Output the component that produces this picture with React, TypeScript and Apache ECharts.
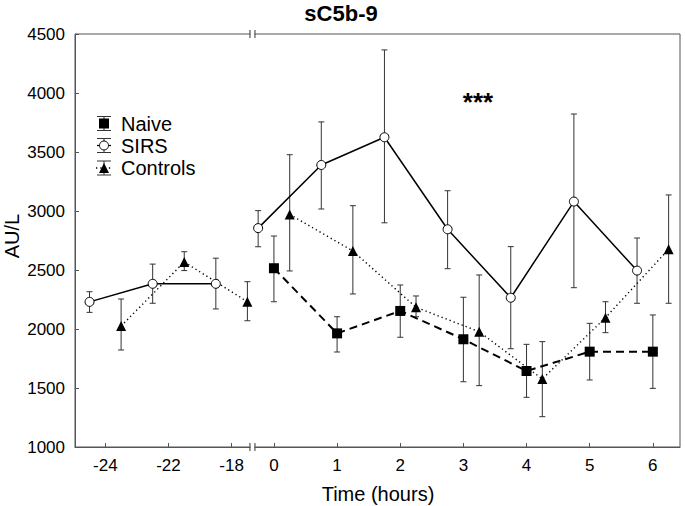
import React, { useEffect, useRef } from 'react';
import * as echarts from 'echarts';

// ---- data ----
const leftTimeLabels = ['-24', '-22', '-18'];
const rightTimeLabels = ['0', '1', '2', '3', '4', '5', '6'];

const naiveRight = [2515, 1963, 2153, 1913, 1644, 1808, 1808];
const naiveRightLow = [2231, 1805, 1930, 1553, 1421, 1568, 1497];
const naiveRightHigh = [2788, 2104, 2373, 2269, 1870, 2048, 2119];

const sirsLeft = [2230, 2383, 2383];
const sirsLeftLow = [2141, 2218, 2170];
const sirsLeftHigh = [2316, 2550, 2600];
const sirsRight = [2855, 3390, 3625, 2845, 2265, 3080, 2495];
const sirsRightLow = [2697, 3017, 2900, 2511, 1833, 2350, 2218];
const sirsRightHigh = [3003, 3755, 4365, 3172, 2698, 3822, 2771];

const controlsLeft = [2025, 2568, 2231];
const controlsLeftLow = [1822, 2495, 2070];
const controlsLeftHigh = [2254, 2655, 2401];
const controlsRight = [2971, 2661, 2184, 1977, 1576, 2096, 2676];
const controlsRightLow = [2492, 2297, 2104, 1520, 1257, 1969, 2218];
const controlsRightHigh = [3477, 3045, 2280, 2458, 1893, 2231, 3136];

const yMin = 1000;
const yMax = 4500;
const yStep = 500;

// ---- layout ----
const W = 685;
const H = 506;
const GL = 75, GR = 5, GT = 34, GB = 59;
const X_MIN = -3.15, X_MAX = 6.43;
const LEFT_START = -2.67; // axis position of first pre-treatment label
const BREAK_POS = -0.34;
const OFF_SIRS = -0.25, OFF_NAIVE = 0, OFF_CTRL = 0.25;
const FONT = 'Liberation Sans, Arial, Helvetica, sans-serif';
const AXIS_COLOR = '#555';

const leftPos = (i: number) => LEFT_START + i;
const rightPos = (i: number) => i;

function lineData(left: number[] | null, right: number[], off: number) {
  const d: any[] = [];
  if (left) {
    left.forEach((v, i) => d.push([leftPos(i) + off, v]));
    d.push([BREAK_POS, null]);
  }
  right.forEach((v, i) => d.push([rightPos(i) + off, v]));
  return d;
}
function errData(lLow: number[] | null, lHigh: number[] | null, rLow: number[], rHigh: number[], off: number) {
  const d: any[] = [];
  if (lLow && lHigh) lLow.forEach((v, i) => d.push([leftPos(i) + off, v, lHigh[i]]));
  rLow.forEach((v, i) => d.push([rightPos(i) + off, v, rHigh[i]]));
  return d;
}

const tickPositions = [
  ...leftTimeLabels.map((_, i) => leftPos(i)),
  ...rightTimeLabels.map((_, i) => rightPos(i)),
];
const tickLabels = [...leftTimeLabels, ...rightTimeLabels];
const labelFor = (v: number) => {
  let best = 0, bd = Infinity;
  tickPositions.forEach((p, i) => { const dd = Math.abs(p - v); if (dd < bd) { bd = dd; best = i; } });
  return tickLabels[best];
};

const errRender = (params: any, api: any) => {
  const x = api.value(0);
  const lo = api.coord([x, api.value(1)]);
  const hi = api.coord([x, api.value(2)]);
  const cap = 3;
  const st = { stroke: '#333', lineWidth: 1 };
  return {
    type: 'group',
    children: [
      { type: 'line', shape: { x1: lo[0], y1: lo[1], x2: hi[0], y2: hi[1] }, style: st },
      { type: 'line', shape: { x1: lo[0] - cap, y1: lo[1], x2: lo[0] + cap, y2: lo[1] }, style: st },
      { type: 'line', shape: { x1: hi[0] - cap, y1: hi[1], x2: hi[0] + cap, y2: hi[1] }, style: st },
    ],
  };
};

function txt(text: string, x: number, y: number, size: number, opts: any = {}) {
  return {
    type: 'text',
    x, y,
    rotation: opts.rotation || 0,
    z: 100,
    style: {
      text,
      fontSize: size,
      fontFamily: FONT,
      fontWeight: opts.bold ? 'bold' : 'normal',
      fill: '#000',
      align: opts.align || 'center',
      textAlign: opts.align || 'center',
      verticalAlign: 'middle',
      textVerticalAlign: 'middle',
    },
  };
}

function legendRow(cx: number, cy: number, kind: string, label: string) {
  const st = { stroke: '#333', lineWidth: 1 };
  const h = 7, cw = 7;
  const els: any[] = [
    { type: 'line', z: 100, shape: { x1: cx, y1: cy - h, x2: cx, y2: cy + h }, style: st },
    { type: 'line', z: 100, shape: { x1: cx - cw, y1: cy - h, x2: cx + cw, y2: cy - h }, style: st },
    { type: 'line', z: 100, shape: { x1: cx - cw, y1: cy + h, x2: cx + cw, y2: cy + h }, style: st },
  ];
  if (kind === 'sirs') {
    els.push({ type: 'line', z: 100, shape: { x1: cx - 7, y1: cy, x2: cx + 7, y2: cy }, style: { stroke: '#000', lineWidth: 1.2 } });
    els.push({ type: 'circle', z: 101, shape: { cx, cy, r: 4.5 }, style: { fill: '#fff', stroke: '#000', lineWidth: 1 } });
  } else if (kind === 'naive') {
    els.push({ type: 'rect', z: 101, shape: { x: cx - 5, y: cy - 5, width: 10, height: 10 }, style: { fill: '#000' } });
  } else {
    els.push({ type: 'line', z: 100, shape: { x1: cx - 8, y1: cy, x2: cx + 8, y2: cy }, style: { stroke: '#000', lineWidth: 1.3, lineDash: [1.3, 3] } });
    els.push({ type: 'polygon', z: 101, shape: { points: [[cx, cy - 5], [cx + 5, cy + 5], [cx - 5, cy + 5]] }, style: { fill: '#000' } });
  }
  els.push(txt(label, cx + 17, cy, 20, { align: 'left' }));
  return els;
}

export default function App() {
  const ref = useRef<HTMLDivElement>(null);
  useEffect(() => {
    document.body.style.margin = '0';
    if (!ref.current) return;
    const chart = echarts.init(ref.current, undefined, { renderer: 'svg' });
    const plotW = W - GL - GR;
    const bx = GL + ((BREAK_POS - X_MIN) / (X_MAX - X_MIN)) * plotW;
    const yTop = GT, yBot = H - GB;
    const breakEls: any[] = [];
    [yTop, yBot].forEach((yy) => {
      breakEls.push({ type: 'rect', z: 110, shape: { x: bx - 2, y: yy - 2, width: 4, height: 4 }, style: { fill: '#fff' } });
      breakEls.push({ type: 'line', z: 111, shape: { x1: bx - 2.5, y1: yy - 4, x2: bx - 2.5, y2: yy + 4 }, style: { stroke: AXIS_COLOR, lineWidth: 1.2 } });
      breakEls.push({ type: 'line', z: 111, shape: { x1: bx + 2.5, y1: yy - 4, x2: bx + 2.5, y2: yy + 4 }, style: { stroke: AXIS_COLOR, lineWidth: 1.2 } });
    });

    const option: any = {
      animation: false,
      backgroundColor: '#fff',
      grid: { left: GL, right: GR, top: GT, bottom: GB, show: true, borderColor: AXIS_COLOR, borderWidth: 1, backgroundColor: 'transparent' },
      xAxis: {
        type: 'value',
        min: X_MIN,
        max: X_MAX,
        splitLine: { show: false },
        axisLine: { show: true, onZero: false, lineStyle: { color: AXIS_COLOR, width: 1 } },
        axisTick: { show: true, inside: true, length: 4, lineStyle: { color: AXIS_COLOR }, customValues: tickPositions },
        axisLabel: {
          show: true, margin: 10, color: '#000', fontSize: 17, fontFamily: FONT,
          customValues: tickPositions,
          formatter: (v: number) => labelFor(v),
        },
      },
      yAxis: {
        type: 'value',
        min: yMin,
        max: yMax,
        interval: yStep,
        splitLine: { show: false },
        axisLine: { show: true, onZero: false, lineStyle: { color: AXIS_COLOR, width: 1 } },
        axisTick: { show: true, inside: true, length: 4, lineStyle: { color: AXIS_COLOR } },
        axisLabel: { margin: 10, color: '#000', fontSize: 17, fontFamily: FONT, formatter: (v: number) => String(v) },
      },
      series: [
        { type: 'custom', name: 'err-naive', renderItem: errRender, data: errData(null, null, naiveRightLow, naiveRightHigh, OFF_NAIVE), encode: { x: 0, y: [1, 2] }, z: 1, silent: true },
        { type: 'custom', name: 'err-sirs', renderItem: errRender, data: errData(sirsLeftLow, sirsLeftHigh, sirsRightLow, sirsRightHigh, OFF_SIRS), encode: { x: 0, y: [1, 2] }, z: 1, silent: true },
        { type: 'custom', name: 'err-ctrl', renderItem: errRender, data: errData(controlsLeftLow, controlsLeftHigh, controlsRightLow, controlsRightHigh, OFF_CTRL), encode: { x: 0, y: [1, 2] }, z: 1, silent: true },
        {
          type: 'line', name: 'Controls', data: lineData(controlsLeft, controlsRight, OFF_CTRL), connectNulls: false,
          symbol: 'triangle', symbolSize: 10, showAllSymbol: true, z: 3,
          lineStyle: { color: '#000', width: 1.4, type: [1.3, 3] },
          itemStyle: { color: '#000', borderWidth: 0 },
        },
        {
          type: 'line', name: 'Naive', data: lineData(null, naiveRight, OFF_NAIVE), connectNulls: false,
          symbol: 'rect', symbolSize: 10, showAllSymbol: true, z: 4,
          lineStyle: { color: '#000', width: 2, type: [8, 5] },
          itemStyle: { color: '#000', borderWidth: 0 },
        },
        {
          type: 'line', name: 'SIRS', data: lineData(sirsLeft, sirsRight, OFF_SIRS), connectNulls: false,
          symbol: 'circle', symbolSize: 9, showAllSymbol: true, z: 5,
          lineStyle: { color: '#000', width: 1.5 },
          itemStyle: { color: '#fff', borderColor: '#000', borderWidth: 1 },
        },
      ],
      graphic: [
        txt('sC5b-9', 341, 13, 22, { bold: true }),
        txt('***', 478, 102, 26, { bold: true }),
        txt('Time (hours)', 378, 494, 20),
        txt('AU/L', 12, 236, 20, { rotation: Math.PI / 2 }),
        ...legendRow(104, 123.5, 'naive', 'Naive'),
        ...legendRow(104, 145.5, 'sirs', 'SIRS'),
        ...legendRow(104, 168, 'ctrl', 'Controls'),
        ...breakEls,
      ],
    };
    chart.setOption(option);
    return () => chart.dispose();
  }, []);
  return <div ref={ref} style={{ width: W, height: H }} />;
}
